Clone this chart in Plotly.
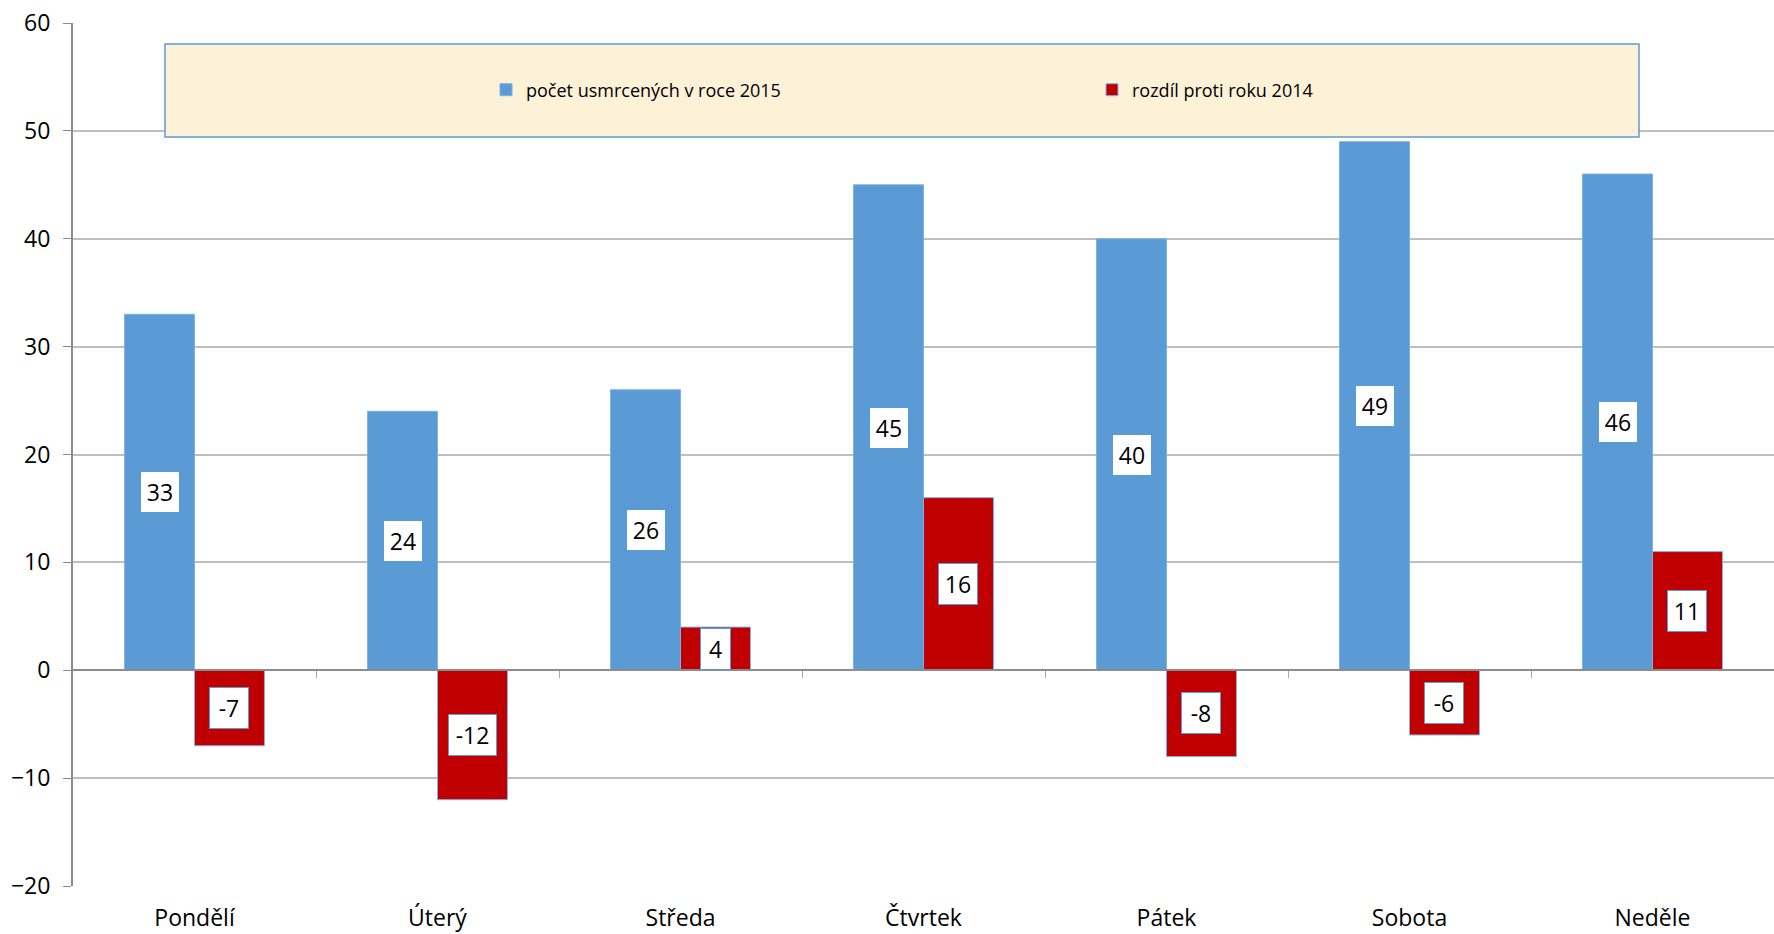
import plotly.graph_objects as go

days = ["Pondělí", "Úterý", "Středa", "Čtvrtek", "Pátek", "Sobota", "Neděle"]
killed_2015 = [33, 24, 26, 45, 40, 49, 46]
diff_2014 = [-7, -12, 4, 16, -8, -6, 11]
name_2015 = "počet usmrcených v roce 2015"
name_diff = "rozdíl proti roku 2014"
y_ticks = [-20, -10, 0, 10, 20, 30, 40, 50, 60]

FONT = "Open Sans"
BLUE = "#5B9BD5"
RED = "#C00000"
BW = 0.288

fig = go.Figure()
fig.add_trace(go.Bar(
    x=days, y=killed_2015, name=name_2015, width=BW, offset=-BW,
    marker=dict(color=BLUE, line=dict(color="#7FB2E3", width=1)),
    legend="legend", hoverinfo="skip",
))
fig.add_trace(go.Bar(
    x=days, y=diff_2014, name=name_diff, width=BW, offset=0,
    marker=dict(color=RED, line=dict(color="#7FB2E3", width=1)),
    legend="legend2", hoverinfo="skip",
))
# helper trace for the zero-line axis with category-boundary ticks
fig.add_trace(go.Scatter(x=[0], y=[0], xaxis="x2", mode="markers",
                         marker=dict(opacity=0), showlegend=False, hoverinfo="skip"))


def label(xpos, v):
    s = str(v)
    return dict(x=xpos, y=v / 2, xref="x", yref="y", text=s,
                showarrow=False, bgcolor="white", bordercolor=BLUE,
                borderwidth=1, borderpad=4, width=9 * len(s) + 12,
                font=dict(family=FONT, size=23, color="black"))


annotations = [label(i - BW / 2, v) for i, v in enumerate(killed_2015)]
annotations += [label(i + BW / 2, v) for i, v in enumerate(diff_2014)]

fig.update_layout(
    width=1774, height=934,
    margin=dict(l=73, r=0, t=23, b=48),
    paper_bgcolor="white", plot_bgcolor="white",
    barmode="overlay",
    font=dict(family=FONT, color="black"),
    xaxis=dict(type="category", categoryorder="array", categoryarray=days,
               range=[-0.5, 6.5], showgrid=False, showline=False, ticks="",
               automargin=False,
               tickfont=dict(size=23, color="black"), ticklabelstandoff=16),
    xaxis2=dict(overlaying="x", anchor="free", position=0.25, range=[-0.5, 6.5],
                tickvals=[0.5, 1.5, 2.5, 3.5, 4.5, 5.5], ticks="outside", ticklen=7,
                tickcolor="#A6A6A6", showline=True, linecolor="#8C8C8C", linewidth=2,
                showticklabels=False, showgrid=False, zeroline=False, automargin=False),
    yaxis=dict(range=[-20, 60], tickvals=y_ticks, showgrid=True, gridcolor="#BEBEBE",
               gridwidth=1.5, zeroline=False, showline=True, linecolor="#8C8C8C",
               linewidth=2, ticks="outside", ticklen=8, tickcolor="#8C8C8C",
               automargin=False,
               tickfont=dict(size=23, color="black"), ticklabelstandoff=8),
    legend=dict(x=(486 - 73) / 1701, y=(886 - 90) / 863, xanchor="left", yanchor="middle",
                bgcolor="rgba(0,0,0,0)", font=dict(size=18, color="black"),
                itemclick=False, itemdoubleclick=False),
    legend2=dict(x=(1092 - 73) / 1701, y=(886 - 90) / 863, xanchor="left", yanchor="middle",
                 bgcolor="rgba(0,0,0,0)", font=dict(size=18, color="black"),
                 itemclick=False, itemdoubleclick=False),
    shapes=[dict(type="rect", xref="paper", yref="paper",
                 x0=(165 - 73) / 1701, x1=(1639 - 73) / 1701,
                 y0=(886 - 137) / 863, y1=(886 - 44) / 863,
                 fillcolor="#FDF1D8", line=dict(color=BLUE, width=1.5), layer="above")],
    annotations=annotations,
    showlegend=True,
)

fig.write_html("out.html", config={"displayModeBar": False},
               post_script="document.body.style.margin='0';")
